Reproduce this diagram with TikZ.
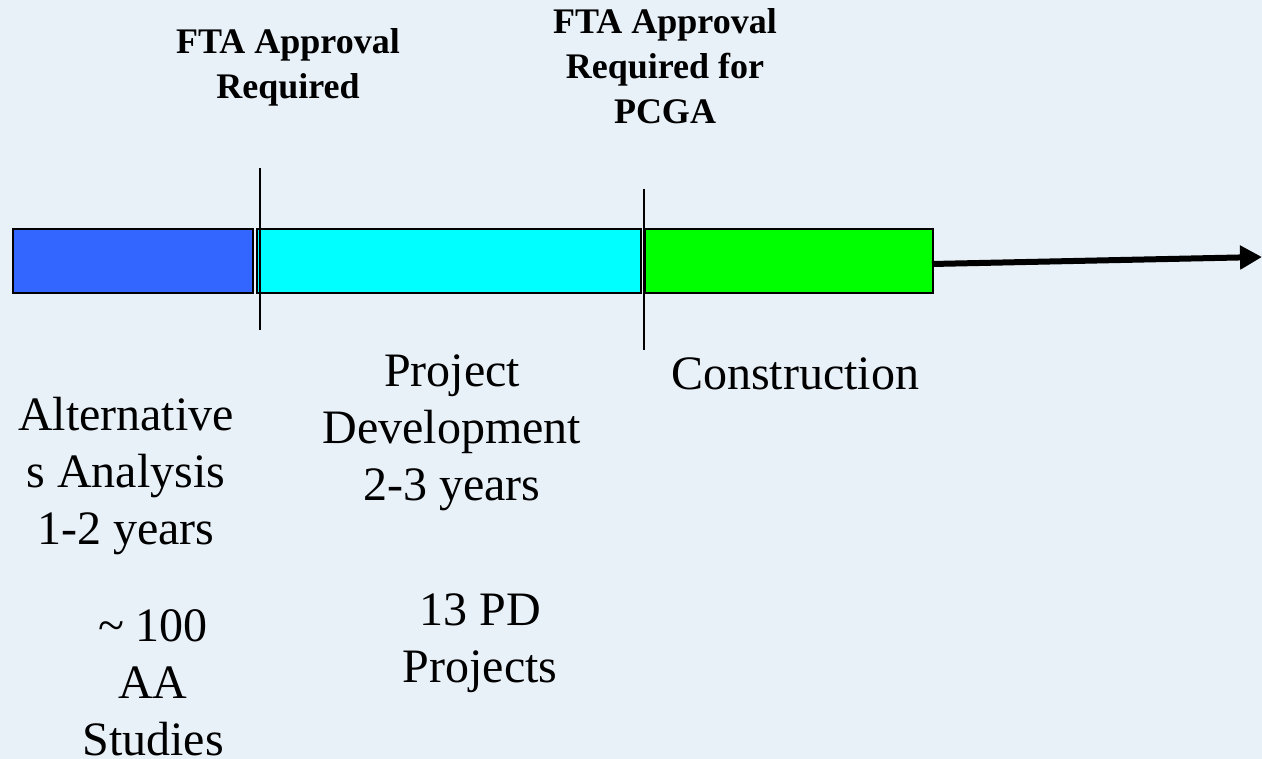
\documentclass[tikz,border=0pt]{standalone}
\usepackage{fontspec}
\setmainfont{Liberation Serif}
\usetikzlibrary{arrows.meta}
\definecolor{bg}{RGB}{232,240,248}
\definecolor{barblue}{RGB}{51,102,255}
\definecolor{barcyan}{RGB}{0,255,255}
\definecolor{bargreen}{RGB}{0,255,0}
\begin{document}
\begin{tikzpicture}[x=1pt,y=-1pt,
  bar/.style={draw=black,line width=1.5pt,minimum height=64pt,inner sep=0pt,anchor=west},
  boldlabel/.style={anchor=base,align=center,inner sep=0pt,font=\fontsize{36}{45}\selectfont\bfseries},
  plainlabel/.style={anchor=base,align=center,inner sep=0pt,font=\fontsize{48}{57}\selectfont},
  gate/.style={line width=1.3pt},
  timeline/.style={line width=6pt,-{Triangle[length=22pt,width=23pt]}}]
\fill[bg] (0,0) rectangle (1262,759);
\useasboundingbox (0,0) rectangle (1262,759);
% bars
\node[bar,fill=barblue,minimum width=240pt] (aabar) at (12,261) {};
\node[bar,fill=barcyan,minimum width=384pt] (pdbar) at (256,261) {};
\node[bar,fill=bargreen,minimum width=288pt] (conbar) at (644,261) {};
% approval lines
\coordinate (g1top) at (260,168);
\coordinate (g1bot) at (260,330);
\coordinate (g2top) at (644,189);
\coordinate (g2bot) at (644,350);
\draw[gate] (g1top) -- (g1bot);
\draw[gate] (g2top) -- (g2bot);
% timeline arrow
\coordinate (arrstart) at (932,264);
\coordinate (arrend) at (1262,257);
\draw[timeline] (arrstart) -- (arrend);
% labels (anchor=base is the baseline of the last line)
\node[boldlabel] (appr1) at (288,99) {FTA Approval\\Required};
\node[boldlabel] (appr2) at (665,124) {FTA Approval\\Required for\\PCGA};
\node[plainlabel] (aatext) at (126,544) {Alternative\\s Analysis\\1-2 years};
\node[plainlabel] (pdtext) at (452,500) {Project\\Development\\2-3 years};
\node[plainlabel] (context) at (795,390) {Construction};
\node[plainlabel] (aacount) at (153,755) {\textasciitilde{} 100\\AA\\Studies};
\node[plainlabel] (pdcount) at (480,682) {13 PD\\Projects};
\end{tikzpicture}
\end{document}
